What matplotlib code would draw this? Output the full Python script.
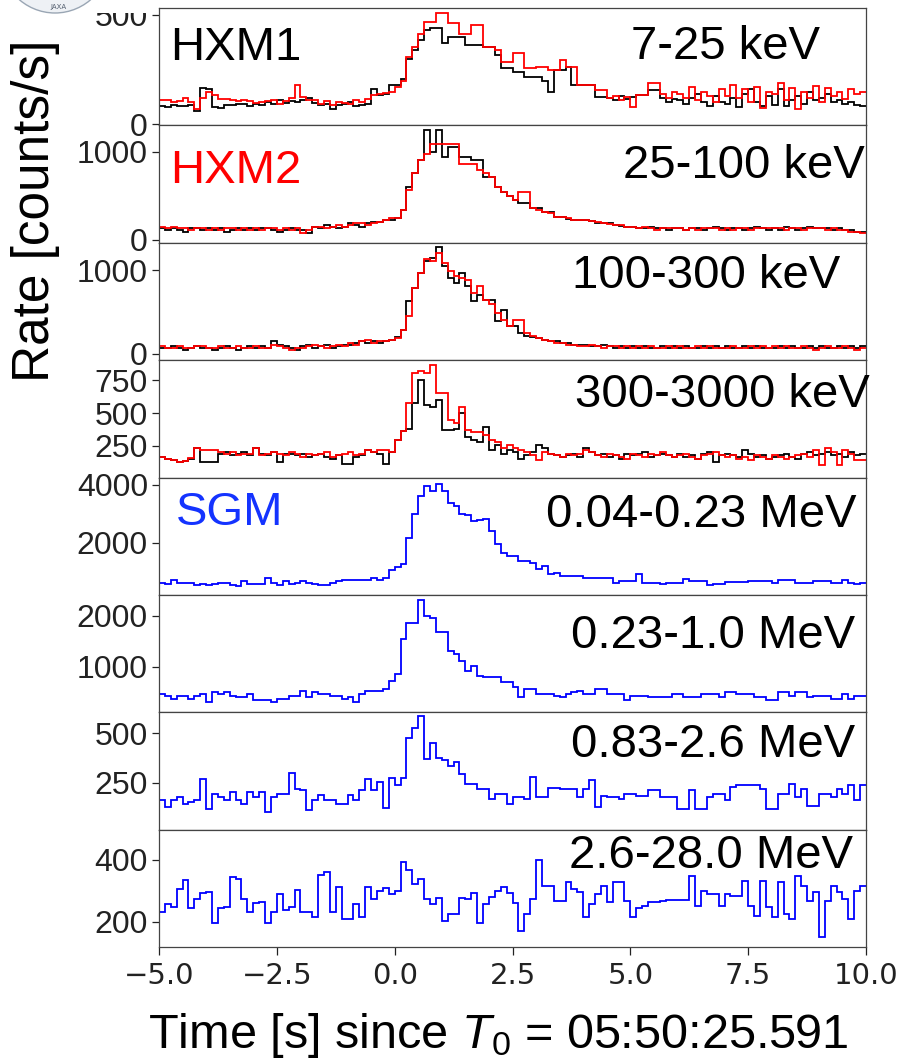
import numpy as np
import matplotlib
matplotlib.use("Agg")
import matplotlib.pyplot as plt
from matplotlib.patches import Rectangle, Ellipse

plt.rcParams["mathtext.fontset"] = "custom"
plt.rcParams["mathtext.rm"] = "Liberation Sans"
plt.rcParams["mathtext.it"] = "Liberation Sans:italic"

# 0.125 s bins from -5 to 10 s
edges = np.arange(-5, 10 + 1e-9, 0.125)

hxm1_7_25 = [85, 80, 90, 85, 82, 88, 60, 165,
             160, 78, 75, 88, 90, 95, 92, 85,
             95, 88, 100, 92, 110, 98, 105, 100,
             110, 120, 98, 88, 95, 72, 90, 95,
             100, 82, 90, 95, 160, 133, 140, 178,
             178, 205, 298, 338, 384, 430, 440, 440,
             370, 400, 398, 398, 361, 361, 361, 352,
             352, 315, 256, 256, 238, 238, 215, 215,
             215, 200, 146, 247, 247, 261, 178, 178,
             178, 178, 124, 124, 120, 110, 130, 115,
             125, 133, 133, 155, 155, 120, 100, 115,
             110, 95, 120, 140, 100, 85, 130, 100,
             95, 120, 80, 140, 160, 100, 85, 130,
             90, 160, 85, 110, 130, 95, 150, 110,
             120, 140, 100, 110, 95, 100, 90, 85]
hxm2_7_25 = [110, 110, 100, 105, 120, 100, 72, 120,
             150, 135, 115, 118, 110, 108, 112, 105,
             98, 100, 108, 110, 95, 105, 120, 178,
             125, 110, 112, 95, 105, 88, 100, 98,
             95, 110, 100, 116, 133, 140, 142, 150,
             170, 198, 306, 352, 414, 467, 467, 508,
             508, 462, 462, 414, 414, 452, 452, 352,
             352, 338, 284, 284, 325, 325, 256, 256,
             261, 261, 247, 247, 293, 261, 261, 178,
             178, 178, 155, 155, 120, 130, 110, 125,
             78, 133, 133, 188, 188, 140, 120, 150,
             140, 120, 170, 110, 150, 130, 100, 160,
             130, 180, 120, 160, 100, 170, 75, 150,
             140, 190, 110, 165, 70, 150, 120, 175,
             100, 165, 130, 150, 115, 160, 140, 150]

hxm1_25_100 = [132, 113, 132, 113, 94, 132, 132, 113,
               132, 113, 132, 94, 113, 132, 113, 132,
               113, 132, 132, 113, 94, 113, 132, 113,
               113, 75, 151, 132, 170, 151, 132, 151,
               189, 170, 151, 189, 208, 208, 226, 226,
               245, 340, 604, 755, 906, 1246, 1000, 1246,
               944, 1057, 1057, 943, 943, 906, 906, 717,
               717, 604, 547, 500, 453, 415, 415, 360,
               360, 320, 320, 264, 264, 240, 226, 226,
               226, 210, 195, 190, 188, 170, 160, 150,
               150, 140, 132, 150, 132, 140, 113, 132,
               132, 113, 140, 132, 113, 132, 150, 132,
               113, 132, 140, 113, 132, 150, 132, 113,
               132, 113, 150, 140, 113, 132, 150, 132,
               140, 132, 113, 132, 113, 113, 94, 94]
hxm2_25_100 = [151, 132, 151, 132, 132, 113, 132, 132,
               113, 132, 113, 132, 132, 113, 132, 113,
               132, 113, 132, 132, 113, 132, 113, 132,
               75, 113, 151, 151, 132, 151, 170, 151,
               170, 189, 189, 170, 189, 208, 226, 245,
               245, 340, 570, 755, 906, 981, 1095, 1095,
               1095, 1095, 1095, 868, 868, 868, 800, 755,
               717, 604, 547, 500, 453, 547, 547, 360,
               340, 320, 300, 264, 264, 245, 226, 226,
               226, 215, 200, 190, 175, 165, 170, 150,
               150, 132, 150, 132, 113, 140, 132, 132,
               132, 113, 140, 113, 132, 140, 132, 113,
               132, 113, 132, 140, 113, 132, 132, 140,
               132, 140, 113, 132, 132, 113, 132, 140,
               132, 113, 132, 113, 113, 94, 94, 75]

hxm1_100_300 = [72, 72, 91, 72, 52, 72, 91, 72,
                72, 52, 72, 91, 72, 52, 72, 91,
                72, 91, 72, 151, 111, 91, 72, 52,
                91, 111, 72, 91, 111, 72, 91, 111,
                111, 131, 151, 131, 151, 131, 151, 171,
                200, 290, 629, 788, 967, 1107, 1150, 1278,
                1047, 908, 848, 967, 808, 629, 709, 649,
                649, 390, 530, 330, 330, 251, 211, 200,
                191, 171, 151, 151, 131, 131, 111, 111,
                111, 91, 91, 111, 91, 72, 91, 72,
                91, 72, 91, 72, 72, 91, 72, 91,
                72, 91, 72, 72, 91, 72, 91, 72,
                91, 72, 72, 91, 72, 91, 72, 72,
                72, 91, 72, 91, 72, 72, 91, 72,
                91, 72, 72, 91, 72, 91, 72, 91]
hxm2_100_300 = [91, 72, 72, 91, 72, 72, 91, 91,
                72, 72, 91, 72, 72, 91, 72, 72,
                91, 72, 72, 111, 91, 72, 52, 72,
                72, 91, 111, 91, 72, 91, 111, 91,
                131, 111, 151, 171, 131, 151, 151, 171,
                190, 290, 450, 788, 967, 1130, 1107, 1207,
                1087, 987, 927, 908, 880, 729, 808, 649,
                600, 490, 410, 330, 410, 410, 251, 211,
                191, 171, 151, 131, 131, 111, 111, 91,
                91, 111, 91, 72, 91, 91, 72, 91,
                72, 91, 72, 91, 72, 72, 91, 72,
                91, 72, 72, 91, 72, 91, 72, 72,
                72, 91, 72, 72, 91, 72, 91, 72,
                91, 72, 91, 72, 72, 91, 72, 52,
                72, 91, 72, 72, 91, 72, 52, 72]

hxm1_300_3000 = [165, 150, 140, 127, 135, 150, 230, 127,
                 127, 127, 191, 204, 178, 191, 204, 178,
                 230, 191, 178, 204, 127, 191, 191, 178,
                 191, 165, 178, 191, 165, 152, 178, 114,
                 114, 165, 178, 217, 204, 191, 114, 204,
                 294, 360, 380, 575, 755, 563, 550, 600,
                 371, 371, 380, 499, 319, 294, 281, 396,
                 217, 255, 191, 217, 204, 152, 178, 204,
                 255, 230, 191, 178, 165, 178, 191, 165,
                 230, 204, 178, 191, 165, 178, 152, 191,
                 178, 191, 204, 165, 178, 191, 178, 165,
                 191, 165, 178, 152, 191, 204, 127, 178,
                 191, 178, 165, 217, 191, 165, 178, 152,
                 165, 178, 191, 165, 152, 191, 204, 178,
                 191, 204, 178, 191, 165, 204, 178, 191]
hxm2_300_3000 = [165, 150, 140, 130, 135, 155, 230, 217,
                 217, 217, 204, 191, 204, 178, 191, 191,
                 230, 178, 191, 204, 191, 178, 204, 191,
                 165, 191, 178, 191, 204, 165, 178, 191,
                 204, 178, 191, 217, 204, 217, 217, 204,
                 294, 360, 575, 806, 819, 806, 865, 652,
                 652, 448, 422, 550, 371, 358, 358, 332,
                 294, 281, 230, 255, 230, 217, 204, 178,
                 140, 204, 191, 178, 165, 191, 178, 191,
                 217, 204, 178, 165, 191, 178, 165, 152,
                 191, 178, 165, 191, 178, 204, 178, 165,
                 178, 191, 165, 152, 178, 191, 204, 178,
                 165, 178, 152, 165, 140, 178, 165, 152,
                 178, 165, 152, 165, 178, 191, 165, 217,
                 101, 230, 204, 101, 217, 191, 140, 140]

sgm_004_023 = [614, 558, 700, 600, 600, 600, 530, 558,
               530, 558, 600, 614, 530, 500, 672, 558,
               558, 558, 787, 614, 530, 672, 558, 614,
               672, 614, 558, 530, 530, 614, 672, 700,
               700, 700, 700, 700, 770, 700, 787, 1040,
               1155, 1251, 2173, 2984, 3619, 3965, 3792, 4046,
               3792, 3387, 3272, 2984, 2960, 2751, 2800, 2810,
               2405, 1944, 1655, 1540, 1540, 1366, 1366, 1310,
               1078, 1190, 904, 962, 846, 846, 846, 846,
               787, 787, 787, 787, 787, 614, 672, 672,
               672, 904, 614, 614, 600, 580, 614, 600,
               614, 730, 672, 672, 672, 530, 558, 558,
               637, 637, 637, 637, 672, 672, 672, 672,
               614, 700, 700, 700, 614, 614, 614, 672,
               672, 672, 614, 614, 700, 614, 558, 614]
sgm_023_10 = [464, 431, 366, 431, 431, 366, 431, 464,
              300, 497, 464, 497, 431, 398, 398, 464,
              333, 333, 333, 300, 366, 366, 431, 431,
              529, 398, 497, 464, 464, 431, 431, 366,
              398, 300, 464, 529, 510, 510, 562, 725,
              856, 1543, 1869, 1869, 2307, 2000, 1967, 1673,
              1673, 1314, 1248, 1118, 922, 1019, 824, 791,
              791, 791, 693, 693, 595, 398, 562, 562,
              464, 464, 464, 431, 398, 464, 497, 529,
              464, 464, 562, 562, 464, 464, 464, 333,
              431, 431, 431, 398, 398, 398, 398, 464,
              464, 398, 398, 398, 464, 464, 464, 398,
              497, 497, 464, 464, 464, 398, 398, 333,
              333, 497, 497, 431, 497, 497, 398, 431,
              431, 431, 366, 366, 464, 366, 431, 431]
sgm_083_26 = [165, 126, 160, 177, 143, 151, 165, 270,
              117, 194, 177, 160, 203, 160, 143, 203,
              177, 203, 100, 177, 194, 194, 300, 219,
              214, 112, 160, 190, 165, 165, 143, 143,
              190, 165, 214, 270, 214, 253, 121, 276,
              236, 276, 474, 525, 588, 372, 449, 377,
              364, 333, 355, 296, 245, 245, 219, 219,
              168, 194, 194, 143, 177, 177, 168, 279,
              177, 177, 224, 224, 219, 219, 219, 177,
              219, 262, 126, 185, 177, 177, 168, 194,
              194, 185, 185, 211, 211, 177, 177, 177,
              117, 117, 211, 117, 117, 177, 194, 194,
              160, 228, 236, 236, 236, 236, 219, 117,
              117, 194, 194, 245, 177, 219, 134, 134,
              194, 194, 177, 219, 194, 236, 160, 236]
sgm_26_280 = [230, 257, 246, 306, 336, 243, 274, 292,
              297, 194, 243, 246, 344, 339, 274, 232,
              260, 263, 194, 232, 290, 238, 246, 303,
              232, 232, 214, 352, 362, 232, 311, 208,
              208, 257, 216, 311, 274, 301, 310, 290,
              298, 392, 369, 322, 339, 272, 257, 278,
              201, 225, 225, 278, 272, 292, 194, 257,
              281, 298, 311, 292, 259, 171, 225, 274,
              400, 317, 317, 268, 268, 328, 306, 295,
              214, 257, 290, 317, 263, 328, 328, 268,
              214, 243, 252, 263, 263, 268, 270, 270,
              270, 270, 349, 252, 301, 290, 290, 252,
              290, 284, 284, 333, 252, 219, 333, 246,
              216, 328, 225, 208, 349, 317, 268, 295,
              149, 268, 317, 295, 274, 208, 301, 317]

band_labels = ["7-25 keV", "25-100 keV", "100-300 keV", "300-3000 keV",
               "0.04-0.23 MeV", "0.23-1.0 MeV", "0.83-2.6 MeV", "2.6-28.0 MeV"]
panels = [
    [(hxm1_7_25, "black"), (hxm2_7_25, "red")],
    [(hxm1_25_100, "black"), (hxm2_25_100, "red")],
    [(hxm1_100_300, "black"), (hxm2_100_300, "red")],
    [(hxm1_300_3000, "black"), (hxm2_300_3000, "red")],
    [(sgm_004_023, "blue")],
    [(sgm_023_10, "blue")],
    [(sgm_083_26, "blue")],
    [(sgm_26_280, "blue")],
]
ylims = [(-5, 532), (-34, 1302), (-76, 1330), (7, 904),
         (187, 4253), (98, 2412), (12, 605), (117, 498)]
yticks = [[0, 500], [0, 1000], [0, 1000], [250, 500, 750],
          [2000, 4000], [1000, 2000], [250, 500], [200, 400]]

W, H = 901, 1058
fig = plt.figure(figsize=(W / 100, H / 100), dpi=100)


def fx(px):
    return px / W


def fy(py):
    return 1 - py / H


x0, x1, top, ph = 159, 866, 8, 117.4
for i, series in enumerate(panels):
    ax = fig.add_axes([fx(x0), fy(top + (i + 1) * ph), (x1 - x0) / W, ph / H])
    for vals, col in series:
        assert len(vals) == len(edges) - 1
        ax.stairs(vals, edges, color=col, lw=1.3, baseline=None)
    ax.set_xlim(-5, 10)
    ax.set_ylim(*ylims[i])
    ax.set_yticks(yticks[i])
    ax.tick_params(axis="y", labelsize=23, length=5, width=0.9, pad=3, colors="#222222")
    for lab in ax.get_yticklabels():
        lab.set_family("Liberation Sans")
    for s in ax.spines.values():
        s.set_color("#444444")
        s.set_linewidth(0.9)
    if i < len(panels) - 1:
        ax.tick_params(axis="x", bottom=False, labelbottom=False)
    else:
        ax.set_xticks([-5, -2.5, 0, 2.5, 5, 7.5, 10])
        ax.set_xticklabels(["\u22125.0", "\u22122.5", "0.0", "2.5", "5.0", "7.5", "10.0"])
        ax.tick_params(axis="x", labelsize=21, length=6, width=0.9, pad=5, colors="#222222")

# cropped logo in the top-left corner (covers the top of the first tick label)
fig.patches.append(Rectangle((0, fy(13)), fx(150), 13 / H, transform=fig.transFigure,
                             facecolor="white", edgecolor="none", zorder=5))
fig.patches.append(Ellipse((fx(55), fy(-45)), fx(112), 116 / H, transform=fig.transFigure,
                           facecolor="#eef1f5", edgecolor="#9aa6b4", lw=1.0, zorder=6))
fig.text(fx(58), fy(9), "JAXA", fontsize=5, color="#556070", ha="center",
         va="baseline", zorder=7)

lab_font = dict(family="Liberation Sans", fontsize=34, va="baseline")
fig.text(fx(170), fy(60), "HXM1", color="black", ha="left", **lab_font)
fig.text(fx(170), fy(183), "HXM2", color="red", ha="left", **lab_font)
fig.text(fx(176), fy(525), "SGM", color="#1433ff", ha="left", **lab_font)

band_pos = [(820, 59), (865, 178), (840, 288), (870, 407),
            (857, 527), (855, 648), (855, 757), (853, 868)]
for text, (px, py) in zip(band_labels, band_pos):
    fig.text(fx(px), fy(py), text, color="black", ha="right", **lab_font)

fig.text(fx(36), fy(211), "Rate [counts/s]", rotation=90, ha="center", va="center",
         family="Liberation Sans", fontsize=37)
fig.text(fx(498), fy(1048), "Time [s] since $T_0$ = 05:50:25.591", ha="center",
         va="baseline", family="Liberation Sans", fontsize=35)

fig.savefig("out.png", dpi=100)
